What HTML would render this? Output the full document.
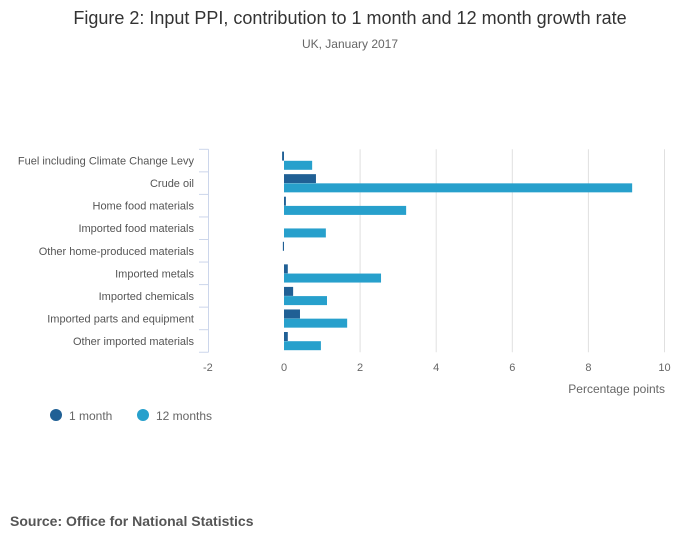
<!DOCTYPE html>
<html><head><meta charset="utf-8"><style>
body{margin:0;background:#fff;font-family:"Liberation Sans",sans-serif;}
svg text{font-family:"Liberation Sans",sans-serif;}
</style></head><body>
<svg id="chart" width="700" height="549" xmlns="http://www.w3.org/2000/svg">
<text x="350" y="24" text-anchor="middle" font-size="18" fill="#333">Figure 2: Input PPI, contribution to 1 month and 12 month growth rate</text>
<text x="350" y="48" text-anchor="middle" font-size="12" fill="#666">UK, January 2017</text>
<g id="grid"></g><g id="bars"></g><g id="labels"></g>
<text x="665" y="393" text-anchor="end" font-size="12" fill="#666">Percentage points</text>
<circle cx="56" cy="415" r="6" fill="#206095"/>
<text x="69" y="420" font-size="12" fill="#666">1 month</text>
<circle cx="143" cy="415" r="6" fill="#27a0cc"/>
<text x="156" y="420" font-size="12" fill="#666">12 months</text>
<text x="10" y="526" font-size="14" font-weight="bold" fill="#555">Source: Office for National Statistics</text>
</svg>
<script>
const categories=["Fuel including Climate Change Levy","Crude oil","Home food materials","Imported food materials","Other home-produced materials","Imported metals","Imported chemicals","Imported parts and equipment","Other imported materials"];
const oneMonth=[-0.05,0.84,0.05,0,-0.03,0.1,0.24,0.42,0.1];
const twelveMonths=[0.74,9.15,3.21,1.1,0,2.55,1.13,1.66,0.97];
const xTicks=[-2,0,2,4,6,8,10];
const NS="http://www.w3.org/2000/svg";
const x=v=>284+(v)*38.05;
const top0=149.3,band=22.55;
const y=i=>top0+i*band;
function mk(t,a,p){const e=document.createElementNS(NS,t);for(const k in a)e.setAttribute(k,a[k]);p.appendChild(e);return e;}
const g=document.getElementById('grid'),b=document.getElementById('bars'),l=document.getElementById('labels');
xTicks.forEach(t=>{
 if(t>0){const ln=mk('line',{x1:x(t),x2:x(t),y1:top0,y2:y(categories.length),stroke:'#e0e0e0'},g);
 
 }
 const tx=mk('text',{x:x(t),y:371,'text-anchor':'middle','font-size':11,fill:'#666'},l);tx.textContent=t;
 
 
});
const ax=mk('line',{x1:208.5,x2:208.5,y1:top0,y2:y(categories.length),stroke:'#ccd6eb'},g);


for(let i=0;i<=categories.length;i++){const tk=mk('line',{x1:199,x2:208.5,y1:y(i),y2:y(i),stroke:'#ccd6eb'},g);
 
 }
categories.forEach((c,i)=>{
 const tx=mk('text',{x:194,y:y(i)+band/2+4,'text-anchor':'end','font-size':11,fill:'#555'},l);tx.textContent=c;
 
 
 const v1=oneMonth[i],v2=twelveMonths[i];
 const r1=mk('rect',{x:Math.min(x(0),x(v1)),y:y(i)+2.3,width:Math.max(Math.abs(x(v1)-x(0)),v1!==0?1:0),height:9,fill:'#206095'},b);
 
 
 const r2=mk('rect',{x:Math.min(x(0),x(v2)),y:y(i)+11.5,width:Math.abs(x(v2)-x(0)),height:9,fill:'#27a0cc'},b);
 
 
});
</script>
</body></html>
